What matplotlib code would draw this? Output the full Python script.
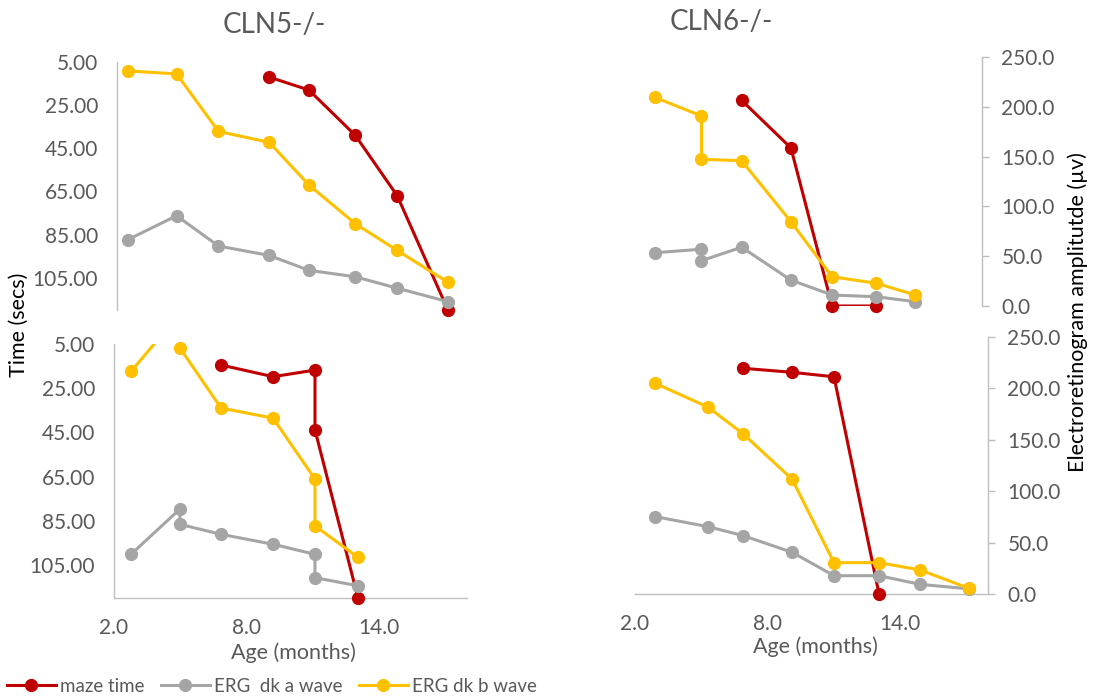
import numpy as np
import matplotlib
matplotlib.use('Agg')
import matplotlib.pyplot as plt
from matplotlib.lines import Line2D
from matplotlib.ticker import FormatStrFormatter

plt.rcParams['font.family'] = ['Lato', 'DejaVu Sans']

nan = np.nan

# ---------------- data ----------------
# CLN5-/- upper panel
age_cln5_top = [2.5, 4.7, 6.6, 8.9, 10.7, 12.8, 14.7, 17.0]
maze_cln5_top = [nan, nan, nan, 12, 18, 39, 67, 120]
erg_a_cln5_top = [71, 95, 64.5, 55, 40, 33.5, 22, 8.4]
erg_b_cln5_top = [241, 238, 180, 169, 126, 87, 60, 28]

# CLN5-/- lower panel
age_cln5_bot = [2.77, 4.99, 4.99, 6.85, 9.21, 11.11, 11.11, 13.06]
maze_cln5_bot = [nan, nan, nan, 14.5, 19.8, 16.8, 43.9, 120]
erg_a_cln5_bot = [43, 87.6, 72.5, 62.7, 52.9, 43, 20, 12]
erg_b_cln5_bot = [223, 280, 246, 187, 177, 117, 71, 40]

# CLN6-/- upper panel
age_cln6_top = [3.0, 5.14, 5.14, 6.98, 9.24, 11.13, 13.16, 14.95]
maze_cln6_top = [nan, nan, nan, 25, 47, 120, 120, nan]
erg_a_cln6_top = [53.5, 57, 45.5, 59, 26, 11, 9.3, 4.3]
erg_b_cln6_top = [209.5, 190.8, 147.3, 145.9, 84.6, 29.4, 22.8, 11]

# CLN6-/- lower panel
age_cln6_bot = [2.91, 5.31, 6.9, 9.12, 11.02, 13.06, 14.92, 17.14]
maze_cln6_bot = [nan, nan, 19, 20.8, 22.8, 120, nan, nan]
erg_a_cln6_bot = [75.3, 65.5, 56.8, 40.6, 17.8, 17.8, 9.4, 5.0]
erg_b_cln6_bot = [205, 181.8, 155.8, 111.7, 30.5, 30.5, 23.4, 5.5]

time_ticks = [5, 25, 45, 65, 85, 105]
erg_ticks = [0, 50, 100, 150, 200, 250]
age_ticks = [2, 8, 14]
series_labels = ['maze time', 'ERG  dk a wave', 'ERG dk b wave']
titles = ['CLN5-/-', 'CLN6-/-']

# ---------------- styling ----------------
W, H = 1095, 697
RED, GREY, YEL = '#C00000', '#A5A5A5', '#FFC000'
SPINE, TXT = '#BFBFBF', '#595959'
LW, MS = 2.2, 8.5
TICK_FS = 15
LABEL_FS = 15.5
TIME_LIM = (120, 5)
ERG_LIM = (0, 250)
AGE_LIM = (2, 18)

fig = plt.figure(figsize=(W / 100, H / 100), dpi=100)


def rect(x0, x1, y0, y1):
    return [x0 / W, 1 - y1 / H, (x1 - x0) / W, (y1 - y0) / H]


def draw_series(ax, x, y, color, ylim):
    x = np.asarray(x, float)
    y = np.asarray(y, float)
    ax.plot(x, y, color=color, lw=LW, solid_capstyle='round', clip_on=True, zorder=2)
    lo, hi = min(ylim), max(ylim)
    inside = (y >= lo) & (y <= hi)
    ax.plot(x[inside], y[inside], ls='none', marker='o', ms=MS, color=color,
            clip_on=False, zorder=3)


def panel(r, age, maze, erg_a, erg_b, left, right, bottom):
    ax = fig.add_axes(r)
    ax.set_xlim(*AGE_LIM)
    ax.set_ylim(*TIME_LIM)
    for s in ['top', 'right']:
        ax.spines[s].set_visible(False)
    ax.spines['left'].set_visible(left)
    ax.spines['bottom'].set_visible(bottom)
    for s in ['left', 'bottom']:
        ax.spines[s].set_color(SPINE)
        ax.spines[s].set_linewidth(1.0)
    draw_series(ax, age, maze, RED, TIME_LIM)
    if left:
        ax.set_yticks(time_ticks)
        ax.yaxis.set_major_formatter(FormatStrFormatter('%.2f'))
        ax.tick_params(axis='y', length=0, pad=13.5, labelsize=TICK_FS, labelcolor=TXT)
    else:
        ax.set_yticks([])
    if bottom:
        ax.set_xticks(age_ticks)
        ax.xaxis.set_major_formatter(FormatStrFormatter('%.1f'))
        ax.tick_params(axis='x', length=0, pad=14.5, labelsize=TICK_FS, labelcolor=TXT)
    else:
        ax.set_xticks([])

    ax2 = ax.twinx()
    ax2.set_ylim(*ERG_LIM)
    for s in ['top', 'left', 'bottom']:
        ax2.spines[s].set_visible(False)
    ax2.spines['right'].set_visible(right)
    ax2.spines['right'].set_color(SPINE)
    ax2.spines['right'].set_linewidth(1.0)
    draw_series(ax2, age, erg_a, GREY, ERG_LIM)
    draw_series(ax2, age, erg_b, YEL, ERG_LIM)
    if right:
        ax2.set_yticks(erg_ticks)
        ax2.yaxis.set_major_formatter(FormatStrFormatter('%.1f'))
        ax2.tick_params(axis='y', length=5, width=1.0, color=SPINE, pad=9,
                        labelsize=TICK_FS, labelcolor=TXT, direction='out')
    else:
        ax2.set_yticks([])
    return ax, ax2


panel(rect(117, 470, 62, 310), age_cln5_top, maze_cln5_top, erg_a_cln5_top,
      erg_b_cln5_top, True, False, False)
panel(rect(114, 467, 344, 598), age_cln5_bot, maze_cln5_bot, erg_a_cln5_bot,
      erg_b_cln5_bot, True, False, True)
panel(rect(633, 982, 57, 306), age_cln6_top, maze_cln6_top, erg_a_cln6_top,
      erg_b_cln6_top, False, True, False)
panel(rect(635, 988, 337, 594), age_cln6_bot, maze_cln6_bot, erg_a_cln6_bot,
      erg_b_cln6_bot, False, True, True)


def ftext(x, y, s, **kw):
    fig.text(x / W, 1 - y / H, s, ha='center', va='center', **kw)


ftext(274, 25, titles[0], fontsize=20, color=TXT)
ftext(721, 22, titles[1], fontsize=20, color=TXT)
ftext(19, 325, 'Time (secs)', fontsize=LABEL_FS, color='black', rotation=90)
ftext(1078, 312, 'Electroretinogram amplitutde (\u00b5v)', fontsize=LABEL_FS,
      color='black', rotation=90)
ftext(293, 653, 'Age (months)', fontsize=LABEL_FS, color=TXT)
ftext(815, 647, 'Age (months)', fontsize=LABEL_FS, color=TXT)

handles = [Line2D([], [], color=c, lw=LW, marker='o', ms=MS)
           for c in (RED, GREY, YEL)]
leg = fig.legend(handles, series_labels, loc='center left',
                 bbox_to_anchor=(0.003, 1 - 686 / H), ncol=3, frameon=False,
                 fontsize=13.5, handlelength=2.6, handletextpad=0.25,
                 columnspacing=0.85, borderaxespad=0, borderpad=0.2)
for t in leg.get_texts():
    t.set_color(TXT)

fig.savefig('out.png', dpi=100)
